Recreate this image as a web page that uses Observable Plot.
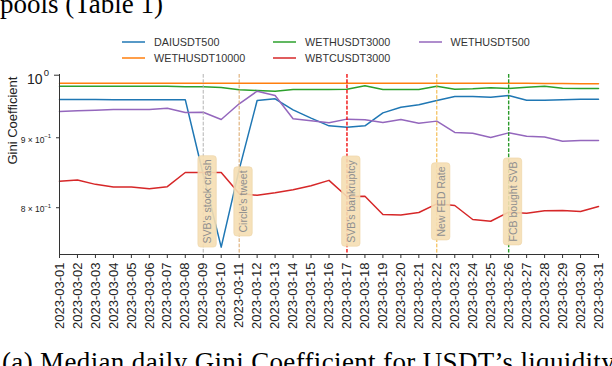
<!DOCTYPE html>
<html><head><meta charset="utf-8">
<script src="https://cdn.jsdelivr.net/npm/d3@7"></script>
<script src="https://cdn.jsdelivr.net/npm/@observablehq/plot@0.6"></script>
<style>
html,body{margin:0;padding:0;background:#fff;}
#wrap{position:relative;width:612px;height:366px;overflow:hidden;font-family:"Liberation Sans",Arial,sans-serif;}
#wrap svg.plot{position:absolute;left:0;top:0;}
.serif{position:absolute;font-family:"Liberation Serif","Times New Roman",serif;font-size:27px;white-space:nowrap;color:#000;line-height:1;}
.leg{position:absolute;height:14px;font-size:10.8px;color:#333;display:flex;align-items:center;white-space:nowrap;}
.leg svg{margin-right:8.6px;display:block}
</style></head><body><div id="wrap"></div>
<script>
// ---- data ----
const days = ["2023-03-01","2023-03-02","2023-03-03","2023-03-04","2023-03-05","2023-03-06","2023-03-07","2023-03-08","2023-03-09","2023-03-10",
"2023-03-11","2023-03-12","2023-03-13","2023-03-14","2023-03-15","2023-03-16","2023-03-17","2023-03-18","2023-03-19","2023-03-20",
"2023-03-21","2023-03-22","2023-03-23","2023-03-24","2023-03-25","2023-03-26","2023-03-27","2023-03-28","2023-03-29","2023-03-30","2023-03-31"];

const seriesNames = ["DAIUSDT500","WETHUSDT10000","WETHUSDT3000","WBTCUSDT3000","WETHUSDT500"];
const seriesColors = ["#1f77b4","#ff7f0e","#2ca02c","#d62728","#9467bd"];

const DAIUSDT500 = [0.9600,0.9600,0.9598,0.9597,0.9597,0.9597,0.9597,0.9597,0.846,0.7486,0.853,0.9583,0.9611,0.9434,0.9302,0.9183,0.9162,0.9183,0.9386,0.9476,0.9514,0.9583,0.9648,0.9648,0.9637,0.9664,0.9588,0.9588,0.9594,0.9604,0.9604];
const WETHUSDT10000 = [0.9866,0.9866,0.9866,0.9866,0.9866,0.9866,0.9866,0.9866,0.9866,0.9866,0.9866,0.9866,0.9866,0.9866,0.9866,0.9866,0.9866,0.9866,0.9866,0.9866,0.9866,0.9866,0.9866,0.9866,0.9866,0.9866,0.9864,0.9862,0.9860,0.9858,0.9857];
const WETHUSDT3000 = [0.9817,0.9817,0.9817,0.9817,0.9817,0.9817,0.9817,0.9807,0.9807,0.9797,0.9757,0.9746,0.9734,0.9762,0.9762,0.9762,0.9767,0.9823,0.9762,0.9762,0.9762,0.9817,0.9767,0.9774,0.9790,0.9779,0.9800,0.9817,0.9784,0.9779,0.9779];
const WBTCUSDT3000 = [0.8366,0.8381,0.8321,0.8283,0.8283,0.8261,0.8289,0.8489,0.8489,0.8489,0.8193,0.8170,0.8203,0.8245,0.8302,0.8377,0.8152,0.8157,0.7909,0.7904,0.7936,0.8053,0.8030,0.7843,0.7820,0.7940,0.7926,0.7959,0.7963,0.7950,0.8017];
const WETHUSDT500 = [0.9407,0.9418,0.9428,0.9439,0.9439,0.9439,0.9460,0.9392,0.9396,0.9282,0.9530,0.9734,0.9664,0.9293,0.9262,0.9230,0.9287,0.9277,0.9235,0.9282,0.9224,0.9256,0.9081,0.9070,0.9004,0.9075,0.9024,0.9013,0.8949,0.8960,0.8960];

const eventDays = ["2023-03-09","2023-03-11","2023-03-17","2023-03-22","2023-03-26"];
const eventTexts = ["SVB's stock crash","Circle's tweet","SVB's bankruptcy","New FED Rate","FCB bought SVB"];
const eventColors = ["#b3b3b3","#d9a466","#f01010","#f2b134","#2a9a2a"];
const eventWidths = [1,1,1.4,1,1.4];
const eventLabelLevel = 0.8085;

const yDomain = [0.7394, 1.0012];
const yMajorTicks = [1];
const yMajorLabels = ["10"]; const yMajorExp = ["0"];
const yMinorTicks = [0.9, 0.8];
const yMinorLabels = ["9 \u00d7 10","8 \u00d7 10"]; const yMinorExp = ["\u22121","\u22121"];
const legendRows = [["DAIUSDT500","WETHUSDT3000","WETHUSDT500"],["WETHUSDT10000","WBTCUSDT3000"]];

// ---- build ----
const parse = d3.utcParse("%Y-%m-%d");
const dates = days.map(parse);
const xDomain = [dates[0], dates[dates.length-1]];
const seriesValues = {DAIUSDT500, WETHUSDT10000, WETHUSDT3000, WBTCUSDT3000, WETHUSDT500};
const data = seriesNames.flatMap(s => seriesValues[s].map((v,i) => ({series:s, date:dates[i], value:v})));
const events = eventDays.map((d,i) => ({date:parse(d), text:eventTexts[i], color:eventColors[i], w:eventWidths[i]}));

const plot = Plot.plot({
  width: 612, height: 366,
  marginTop: 74, marginBottom: 112, marginLeft: 59, marginRight: 14,
  style: {background:"transparent", color:"#222", fontFamily:"'Liberation Sans', Arial, sans-serif"},
  x: {type:"utc", domain: xDomain},
  y: {type:"log", domain: yDomain},
  color: {domain: seriesNames, range: seriesColors},
  marks: [
    Plot.line(data, {x:"date", y:"value", z:"series", stroke:"series", strokeWidth:1.5}),
    Plot.ruleX(events, {x:"date", stroke:"color", strokeWidth:"w", strokeDasharray:"3.7,1.6"}),
    Plot.text(events, {x:"date", y:() => eventLabelLevel, text:"text", rotate:-90, dx:4.5, fontSize:10.5, fill:"#8f8f8f"}),
    Plot.ruleY([yDomain[0]], {stroke:"#333", strokeWidth:1}),
    Plot.ruleX([xDomain[0]], {stroke:"#333", strokeWidth:1}),
    Plot.axisX({ticks: dates, tickFormat: d3.utcFormat("%Y-%m-%d"), tickRotate:-90, tickSize:4, tickPadding:4, fontSize:13, label:null, stroke:"#333"}),
    Plot.axisY({ticks: yMajorTicks, tickSize:5, tickFormat:() => "", label:null, stroke:"#333"}),
    Plot.axisY({ticks: yMinorTicks, tickSize:3, tickFormat:() => "", label:null, stroke:"#333"}),
    Plot.text(yMajorTicks, {y: d=>d, text:(d,i)=>yMajorLabels[i], frameAnchor:"left", textAnchor:"end", dx:-17, dy:4.5, fontSize:14}),
    Plot.text(yMajorTicks, {y: d=>d, text:(d,i)=>yMajorExp[i], frameAnchor:"left", textAnchor:"end", dx:-10.5, dy:-2.5, fontSize:9.5}),
    Plot.text(yMinorTicks, {y: d=>d, text:(d,i)=>yMinorLabels[i], frameAnchor:"left", textAnchor:"end", dx:-15, dy:2, fontSize:8.5}),
    Plot.text(yMinorTicks, {y: d=>d, text:(d,i)=>yMinorExp[i], frameAnchor:"left", textAnchor:"end", dx:-8.5, dy:-2, fontSize:6}),
    Plot.text(["Gini Coefficient"], {frameAnchor:"left", dx:-47, rotate:-90, fontSize:13})
  ]
});
plot.classList.add("plot");
const wrap = document.getElementById("wrap");
wrap.appendChild(plot);

// label boxes behind event texts
plot.querySelectorAll("text").forEach(t => {
  if (!eventTexts.includes(t.textContent)) return;
  const b = t.getBBox();
  const r = document.createElementNS("http://www.w3.org/2000/svg","rect");
  const px = 3.5, py = 3.2;
  r.setAttribute("x", b.x - px); r.setAttribute("y", b.y - py);
  r.setAttribute("width", b.width + 2*px); r.setAttribute("height", b.height + 2*py);
  r.setAttribute("rx", 3); r.setAttribute("fill", "#f5deb3"); r.setAttribute("fill-opacity", 0.9);
  r.setAttribute("stroke", "#ecd3a5"); r.setAttribute("stroke-width", 0.6);
  const tr = t.getAttribute("transform"); if (tr) r.setAttribute("transform", tr);
  t.parentNode.insertBefore(r, t);
});

// serif page text
const topText = document.createElement("div");
topText.className = "serif"; topText.style.left = "0px"; topText.style.top = "-8.6px";
topText.textContent = "pools (Table 1)";
wrap.appendChild(topText);
const capText = document.createElement("div");
capText.className = "serif"; capText.style.left = "2px"; capText.style.top = "349px"; capText.style.letterSpacing = "0.35px";
capText.textContent = "(a) Median daily Gini Coefficient for USDT\u2019s liquidity";
wrap.appendChild(capText);

// legend
const colLeft = [122, 273, 418.5];
const rowY = [42, 58];
legendRows.forEach((row, ri) => row.forEach((name, ci) => {
  const el = document.createElement("div");
  el.className = "leg";
  el.style.left = colLeft[ci] + "px"; el.style.top = (rowY[ri] - 7) + "px";
  const c = seriesColors[seriesNames.indexOf(name)];
  el.innerHTML = `<svg width="23.4" height="14"><line x1="0" x2="23.4" y1="7" y2="7" stroke="${c}" stroke-width="1.5"/></svg><span>${name}</span>`;
  wrap.appendChild(el);
}));
</script></body></html>
